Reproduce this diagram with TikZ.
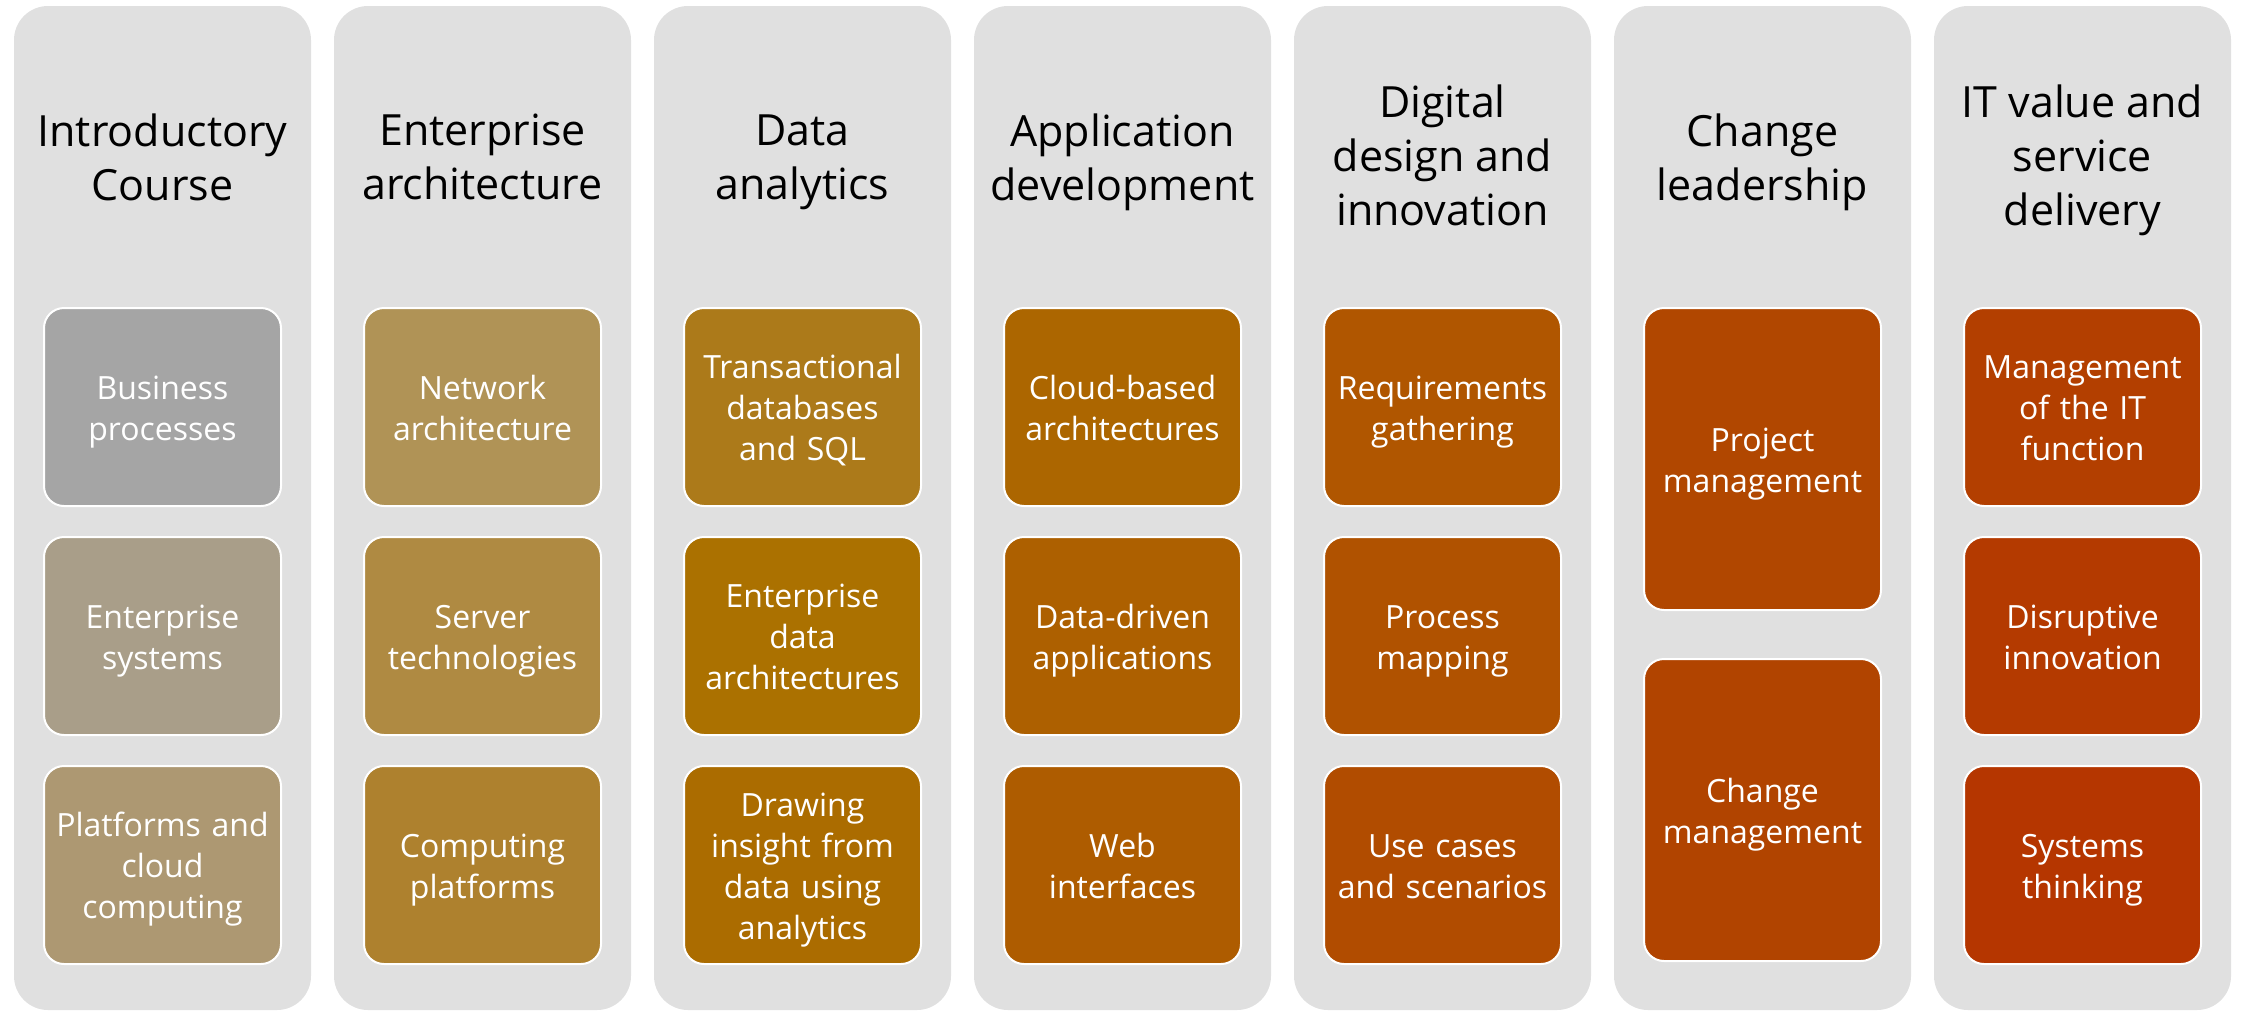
\documentclass[tikz,border=0pt]{standalone}
\usepackage{fontspec}
\setmainfont{Open Sans}
\usepackage{xcolor}
\usepackage{tikz}
\usetikzlibrary{positioning}
\definecolor{lanegray}{HTML}{E0E0E0}
\definecolor{cAa}{HTML}{A5A5A5}
\definecolor{cAb}{HTML}{A99E89}
\definecolor{cAc}{HTML}{AD9872}
\definecolor{cBa}{HTML}{B09356}
\definecolor{cBb}{HTML}{AF8A42}
\definecolor{cBc}{HTML}{AE812E}
\definecolor{cCa}{HTML}{AC7A1A}
\definecolor{cCb}{HTML}{AB7100}
\definecolor{cCc}{HTML}{AB6C00}
\definecolor{cDa}{HTML}{AC6600}
\definecolor{cDb}{HTML}{AD6000}
\definecolor{cDc}{HTML}{AE5C00}
\definecolor{cEa}{HTML}{B05600}
\definecolor{cEb}{HTML}{B05200}
\definecolor{cEc}{HTML}{B14C00}
\definecolor{cFa}{HTML}{B14700}
\definecolor{cFb}{HTML}{B14400}
\definecolor{cGa}{HTML}{B33F00}
\definecolor{cGb}{HTML}{B43A00}
\definecolor{cGc}{HTML}{B53600}
\tikzset{
    lane/.style={fill=lanegray, rounded corners=17pt},
    title/.style={align=center, text=black, font=\fontsize{21.5}{27}\selectfont,
        execute at begin node=\strut, execute at end node=\strut},
    topic/.style={draw=white, line width=1pt, rounded corners=10pt, text=white,
        minimum width=118.5pt, minimum height=99pt, inner sep=2pt,
        text width=114pt, align=center,
        font=\fontsize{16}{20.5}\selectfont,
        execute at begin node=\rule{0pt}{19pt}, execute at end node=\strut},
    talltopic/.style={topic, minimum height=151pt}
}

\begin{document}
\begin{tikzpicture}[x=0.5pt, y=-0.5pt]
    \useasboundingbox (0,0) rectangle (2242,1012);
    % course columns
    \foreach \i in {0,...,6}
        \fill[lane] ({14+320*\i},6) rectangle ++(297,1004);

    % headings
    \node[title] (introHead) at (162.5,165) {Introductory\\Course};
    \node[title] (entHead) at (482.5,165) {Enterprise\\architecture};
    \node[title] (dataHead) at (802.5,165) {Data\\analytics};
    \node[title] (appHead) at (1122.5,165) {Application\\development};
    \node[title] (digHead) at (1442.5,163) {Digital\\design and\\innovation};
    \node[title] (chgHead) at (1762.5,165) {Change\\leadership};
    \node[title] (itHead) at (2082.5,163) {IT value and\\service\\delivery};

    % Introductory Course
    \node[topic, fill=cAa] (busProc) at (162.5,407) {Business\\processes};
    \node[topic, fill=cAb, below=14.5pt of busProc] (entSys) {Enterprise\\systems};
    \node[topic, fill=cAc, below=14.5pt of entSys] (platCloud) {Platforms and\\cloud\\computing};

    % Enterprise architecture
    \node[topic, fill=cBa] (netArch) at (482.5,407) {Network\\architecture};
    \node[topic, fill=cBb, below=14.5pt of netArch] (servTech) {Server\\technologies};
    \node[topic, fill=cBc, below=14.5pt of servTech] (compPlat) {Computing\\platforms};

    % Data analytics
    \node[topic, fill=cCa] (transDb) at (802.5,407) {Transactional\\databases\\and SQL};
    \node[topic, fill=cCb, below=14.5pt of transDb] (entData) {Enterprise\\data\\architectures};
    \node[topic, fill=cCc, below=14.5pt of entData] (insight) {Drawing\\insight from\\data using\\analytics};

    % Application development
    \node[topic, fill=cDa] (cloudArch) at (1122.5,407) {Cloud-based\\architectures};
    \node[topic, fill=cDb, below=14.5pt of cloudArch] (dataApps) {Data-driven\\applications};
    \node[topic, fill=cDc, below=14.5pt of dataApps] (webInt) {Web\\interfaces};

    % Digital design and innovation
    \node[topic, fill=cEa] (reqGath) at (1442.5,407) {Requirements\\gathering};
    \node[topic, fill=cEb, below=14.5pt of reqGath] (procMap) {Process\\mapping};
    \node[topic, fill=cEc, below=14.5pt of procMap] (useCases) {Use cases\\and scenarios};

    % Change leadership
    \node[talltopic, fill=cFa] (projMgmt) at (1762.5,459) {Project\\management};
    \node[talltopic, fill=cFb, below=23.5pt of projMgmt] (chgMgmt) {Change\\management};

    % IT value and service delivery
    \node[topic, fill=cGa] (itFunc) at (2082.5,407) {Management\\of the IT\\function};
    \node[topic, fill=cGb, below=14.5pt of itFunc] (disrupt) {Disruptive\\innovation};
    \node[topic, fill=cGc, below=14.5pt of disrupt] (sysThink) {Systems\\thinking};
\end{tikzpicture}
\end{document}
